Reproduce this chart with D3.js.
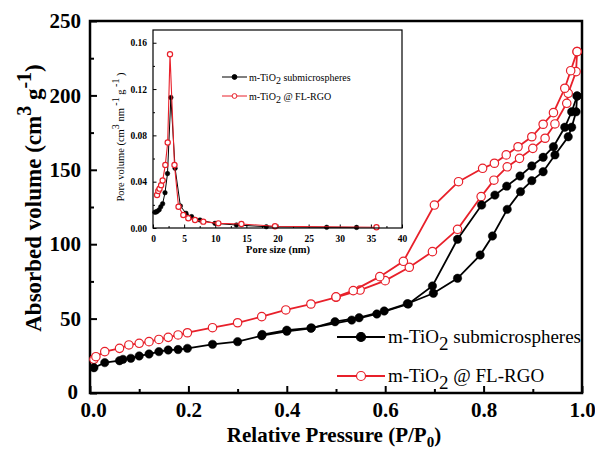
<!DOCTYPE html>
<html>
<head>
<meta charset="utf-8">
<script src="https://cdn.jsdelivr.net/npm/d3@7"></script>
<style>
  body { margin: 0; background: #fff; }
  svg { display: block; font-family: "Liberation Serif", "Times New Roman", serif; }
</style>
</head>
<body>
<div id="chart"></div>
<script>
// main isotherm, m-TiO2 submicrospheres (adsorption / desorption), [P/P0, volume]
var blackAds = [[0.008,17],[0.03,20.4],[0.06,21.7],[0.067,22.6],[0.083,23.3],[0.10,24.9],[0.12,26.2],[0.14,27.8],
  [0.159,28.9],[0.179,29.2],[0.198,30],[0.249,32.7],[0.30,34.5],[0.349,38.5],[0.40,41.5],[0.449,43.5],[0.498,47.9],
  [0.547,50.6],[0.598,55.1],[0.645,60],[0.698,67],[0.747,77.1],[0.793,92.7],[0.818,105.5],[0.848,123.4],[0.875,135.3],
  [0.898,142.7],[0.921,148.7],[0.945,160],[0.972,172.2],[0.979,178.6],[0.988,189],[0.99,199.6]]
var blackDes = [[0.99,199.6],[0.979,189],[0.965,178.6],[0.942,165.5],[0.921,158.4],[0.898,152.6],[0.874,145.8],
  [0.847,139],[0.823,133],[0.796,126.3],[0.747,103.3],[0.696,71.9],[0.647,59.8],[0.583,53.1],[0.532,49],
  [0.45,43.8],[0.40,42.2],[0.35,39.3]]
// m-TiO2 @ FL-RGO
var redAds = [[0.008,22.6],[0.012,24.4],[0.03,27.8],[0.06,30],[0.079,32.3],[0.10,33.4],[0.12,34.5],[0.14,36],
  [0.159,37.4],[0.179,39],[0.198,40.5],[0.249,43.9],[0.30,47.2],[0.349,51.3],[0.398,55.8],[0.449,59.8],[0.50,64.3],
  [0.549,69.2],[0.60,75.5],[0.649,84.5],[0.696,95],[0.747,110],[0.795,132],[0.821,143],[0.848,152],[0.873,157.7],
  [0.90,164.4],[0.925,171.2],[0.945,180.8],[0.969,194.7],[0.972,201.4],[0.988,216],[0.99,229.4]]
var redDes = [[0.99,229.4],[0.977,216.6],[0.965,204.8],[0.942,188.4],[0.921,180.6],[0.898,172.2],
  [0.87,165.5],[0.846,160],[0.822,154.4],[0.798,151],[0.749,142],[0.70,126.3],[0.637,88.5],[0.589,78.2],
  [0.535,68.8],[0.50,64.6]]

// inset pore size distribution, [pore size nm, pore volume]
var blackPore = [[0.3,0.0136],[0.5,0.0138],[0.7,0.0145],[1.0,0.0158],[1.25,0.0184],[1.55,0.021],[1.93,0.0305],
  [2.33,0.047],[2.87,0.1127],[3.55,0.0516],[4.4,0.019],[5.3,0.0127],[6.2,0.0098],[7.55,0.0069],[9.96,0.004],
  [13.4,0.0026],[18.2,0.0011],[27.9,0.0006],[32.7,0.0005]]
var redPore = [[0.65,0.0285],[0.85,0.032],[1.05,0.034],[1.3,0.037],[1.55,0.041],[1.98,0.0545],[2.36,0.0738],
  [2.73,0.150],[3.45,0.0545],[4.1,0.0184],[4.87,0.0112],[5.67,0.0084],[6.75,0.0069],[8.08,0.0055],[10.5,0.004],
  [14.2,0.0035],[19.6,0.0015],[35.9,0.0006]]

var xTicks = [0, 0.2, 0.4, 0.6, 0.8, 1.0]
var yTicks = [0, 50, 100, 150, 200, 250]
var insetXTicks = [0, 5, 10, 15, 20, 25, 30, 35, 40]
var insetYTicks = [0, 0.04, 0.08, 0.12, 0.16]

var RED = "#e8202a"
var width = 595, height = 449

var svg = d3.select("#chart").append("svg")
  .attr("width", width).attr("height", height)
  .style("background", "#fff")

// scales
var x = d3.scaleLinear().domain([0, 1]).range([90, 582])
var y = d3.scaleLinear().domain([0, 250]).range([393, 21])

// minor ticks first
svg.append("g").attr("transform", "translate(0,393)")
  .call(d3.axisBottom(x).tickValues(d3.range(0.1, 1, 0.2)).tickSize(-4).tickFormat("").tickSizeOuter(0))
svg.append("g").attr("transform", "translate(90,0)")
  .call(d3.axisLeft(y).tickValues(d3.range(25, 250, 50)).tickSize(-4).tickFormat("").tickSizeOuter(0))

var xAxis = svg.append("g").attr("transform", "translate(0,393)")
  .call(d3.axisBottom(x).tickValues(xTicks).tickSize(-7).tickSizeOuter(0).tickPadding(9).tickFormat(d3.format(".1f")))
var yAxis = svg.append("g").attr("transform", "translate(90,0)")
  .call(d3.axisLeft(y).tickValues(yTicks).tickSize(-7).tickSizeOuter(0).tickPadding(9))

svg.selectAll(".domain").remove()
svg.selectAll(".tick line").attr("stroke", "#000").attr("stroke-width", 2)
xAxis.selectAll("text").style("font-size", "21px").style("font-weight", "bold").style("font-family", "Liberation Serif")
yAxis.selectAll("text").style("font-size", "21px").style("font-weight", "bold").style("font-family", "Liberation Serif")
// keep the two corner zeros apart
yAxis.selectAll(".tick text").filter(d => d === 0).attr("dx", -3).attr("dy", "0.25em")
xAxis.selectAll(".tick text").filter(d => d === 0).attr("dx", 3)

// frame
svg.append("rect").attr("x", 90).attr("y", 21).attr("width", 492).attr("height", 372)
  .attr("fill", "none").attr("stroke", "#000").attr("stroke-width", 2.5)

// axis titles
svg.append("text")
  .attr("x", 334).attr("y", 442).attr("text-anchor", "middle")
  .style("font-size", "21px").style("font-weight", "bold")
  .html('Relative Pressure (P/P<tspan dy="5" font-size="15">0</tspan><tspan dy="-5">)</tspan>')

svg.append("text")
  .attr("transform", "translate(41,198) rotate(-90)")
  .attr("text-anchor", "middle")
  .style("font-size", "23px").style("font-weight", "bold")
  .html('Absorbed volume (cm<tspan dy="-10" font-size="20">3</tspan><tspan dy="10"> g</tspan><tspan dy="-10" font-size="20">-1</tspan><tspan dy="10">)</tspan>')

function drawSeries(g, data, sx, sy, color, filled, r, lw) {
  var ln = d3.line().x(d => sx(d[0])).y(d => sy(d[1]))
  g.append("path").datum(data).attr("d", ln)
    .attr("fill", "none").attr("stroke", color).attr("stroke-width", lw)
  g.selectAll(null).data(data).enter().append("circle")
    .attr("cx", d => sx(d[0])).attr("cy", d => sy(d[1])).attr("r", r)
    .attr("fill", filled ? color : "#fff")
    .attr("stroke", color).attr("stroke-width", filled ? 0.5 : 1.2)
}

var plot = svg.append("g")
drawSeries(plot, redAds, x, y, RED, false, 4.2, 1.8)
drawSeries(plot, redDes, x, y, RED, false, 4.2, 1.8)
drawSeries(plot, blackAds, x, y, "#000", true, 4.2, 1.8)
drawSeries(plot, blackDes, x, y, "#000", true, 4.2, 1.8)

// main legend
var leg = svg.append("g")
var legItems = [
  { label: "submicrospheres", color: "#000", filled: true, y: 337 },
  { label: "@ FL-RGO", color: RED, filled: false, y: 376 }
]
legItems.forEach(function(it) {
  leg.append("line").attr("x1", 337).attr("x2", 385).attr("y1", it.y).attr("y2", it.y)
    .attr("stroke", it.color).attr("stroke-width", 2)
  leg.append("circle").attr("cx", 361).attr("cy", it.y).attr("r", 4.5)
    .attr("fill", it.filled ? it.color : "#fff").attr("stroke", it.color).attr("stroke-width", 1.2)
  leg.append("text").attr("x", 388).attr("y", it.y + 6)
    .style("font-size", "19px")
    .html('m-TiO<tspan dy="7">2</tspan><tspan dy="-7"> ' + it.label + '</tspan>')
})

// ---- inset ----
var ix = d3.scaleLinear().domain([0, 40]).range([153, 402])
var iy = d3.scaleLinear().domain([0, 0.171]).range([228, 30])

var inset = svg.append("g")
inset.append("rect").attr("x", 153).attr("y", 30).attr("width", 249).attr("height", 198).attr("fill", "#fff")

inset.append("g").attr("transform", "translate(0,228)")
  .call(d3.axisBottom(ix).tickValues(d3.range(2.5, 40, 5)).tickSize(-2).tickFormat("").tickSizeOuter(0))
inset.append("g").attr("transform", "translate(153,0)")
  .call(d3.axisLeft(iy).tickValues([0.02, 0.06, 0.10, 0.14]).tickSize(-2).tickFormat("").tickSizeOuter(0))
var ixAxis = inset.append("g").attr("transform", "translate(0,228)")
  .call(d3.axisBottom(ix).tickValues(insetXTicks).tickSize(-3.5).tickSizeOuter(0).tickPadding(7))
var iyAxis = inset.append("g").attr("transform", "translate(153,0)")
  .call(d3.axisLeft(iy).tickValues(insetYTicks).tickSize(-3.5).tickSizeOuter(0).tickPadding(6).tickFormat(d3.format(".2f")))
inset.selectAll(".domain").remove()
inset.selectAll(".tick line").attr("stroke", "#000").attr("stroke-width", 1)
inset.selectAll(".tick text").style("font-size", "9.5px").style("font-weight", "bold").style("font-family", "Liberation Serif")

drawSeries(inset, blackPore, ix, iy, "#000", true, 2.3, 1)
drawSeries(inset, redPore, ix, iy, RED, false, 2.6, 1.1)

inset.append("rect").attr("x", 153).attr("y", 30).attr("width", 249).attr("height", 198)
  .attr("fill", "none").attr("stroke", "#000").attr("stroke-width", 1.2)

inset.append("text")
  .attr("x", 278).attr("y", 253).attr("text-anchor", "middle")
  .style("font-size", "10.5px").style("font-weight", "bold")
  .text("Pore size (nm)")

inset.append("text")
  .attr("transform", "translate(124,137) rotate(-90)")
  .attr("text-anchor", "middle")
  .style("font-size", "10.5px")
  .html('Pore volume (cm<tspan dy="-5" font-size="10">3</tspan><tspan dy="5"> nm</tspan><tspan dy="-5" font-size="10"> -1</tspan><tspan dy="5">  g</tspan><tspan dy="-5" font-size="10"> -1</tspan><tspan dy="5"> )</tspan>')

var insetLeg = [
  { label: "submicrospheres", color: "#000", filled: true, y: 77 },
  { label: "@ FL-RGO", color: RED, filled: false, y: 96 }
]
insetLeg.forEach(function(it) {
  inset.append("line").attr("x1", 222).attr("x2", 247).attr("y1", it.y).attr("y2", it.y)
    .attr("stroke", it.color).attr("stroke-width", 1)
  inset.append("circle").attr("cx", 234.5).attr("cy", it.y).attr("r", 2.4)
    .attr("fill", it.filled ? it.color : "#fff").attr("stroke", it.color).attr("stroke-width", 1)
  inset.append("text").attr("x", 249).attr("y", it.y + 3.5)
    .style("font-size", "10px")
    .html('m-TiO<tspan dy="3">2</tspan><tspan dy="-3"> ' + it.label + '</tspan>')
})
</script>
</body>
</html>
